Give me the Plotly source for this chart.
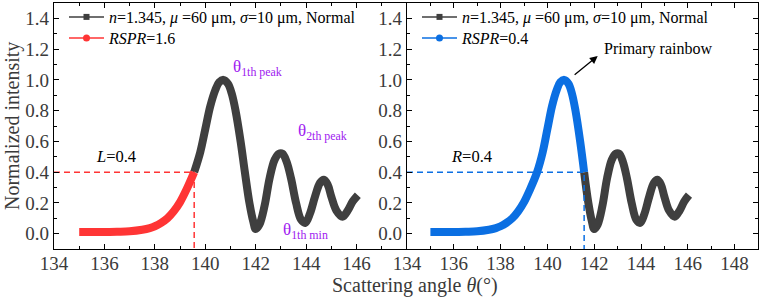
import plotly.graph_objects as go

# ---- data ----
theta = [135.0, 135.5, 136.0, 136.5, 137.0, 137.5, 137.8, 138.0, 138.25, 138.5,
         138.75, 139.0, 139.25, 139.56, 139.8, 140.0, 140.2, 140.4, 140.55, 140.72,
         140.9, 141.05, 141.2, 141.4, 141.57, 141.75, 141.9, 142.0, 142.15, 142.35,
         142.55, 142.75, 142.92, 143.06, 143.22, 143.4, 143.6, 143.8, 143.97, 144.15,
         144.35, 144.55, 144.7, 144.85, 145.0, 145.2, 145.44, 145.65, 145.85, 146.05]
intensity = [0.01, 0.01, 0.01, 0.012, 0.015, 0.025, 0.036, 0.048, 0.07, 0.10,
             0.145, 0.205, 0.285, 0.40, 0.53, 0.68, 0.83, 0.935, 0.985, 1.0,
             0.975, 0.91, 0.80, 0.60, 0.40, 0.20, 0.08, 0.03, 0.06, 0.18,
             0.36, 0.48, 0.52, 0.52, 0.47, 0.36, 0.20, 0.09, 0.07, 0.13,
             0.24, 0.33, 0.35, 0.32, 0.24, 0.15, 0.11, 0.15, 0.21, 0.25]

threshold = 0.4
left_cross = 139.56    # L=0.4 crossing (rising side)
right_cross = 141.57   # R=0.4 crossing (falling side)
axis_min_x = 134
axis_min_y = -0.1

legend_main = "<i>n</i>=1.345, <i>μ</i> =60 μm, <i>σ</i>=10 μm, Normal"
legend_left = "<i>RSPR</i>=1.6"
legend_right = "<i>RSPR</i>=0.4"

x_ticks_left = [134, 136, 138, 140, 142, 144, 146]
x_ticks_right = [134, 136, 138, 140, 142, 144, 146, 148]
y_ticks = [0.0, 0.2, 0.4, 0.6, 0.8, 1.0, 1.2, 1.4]

GRAY = "#3f3f3f"
RED = "#ff3535"
BLUE = "#0b6fe2"
PURPLE = "#a020f0"
FONT = "Liberation Serif"

W, H = 761, 299

def seg(lo, hi):
    xs, ys = [], []
    for t, v in zip(theta, intensity):
        if lo <= t <= hi:
            xs.append(t)
            ys.append(v)
    return xs, ys

fig = go.Figure()

lw = 8
# left panel
gx, gy = seg(left_cross, 999)
rx, ry = seg(0, left_cross)
fig.add_trace(go.Scatter(x=gx, y=gy, mode="lines", line=dict(color=GRAY, width=lw, shape="spline"),
                         xaxis="x", yaxis="y", showlegend=False))
fig.add_trace(go.Scatter(x=rx, y=ry, mode="lines", line=dict(color=RED, width=lw, shape="spline"),
                         xaxis="x", yaxis="y", showlegend=False))
fig.add_trace(go.Scatter(x=[axis_min_x, left_cross, left_cross], y=[threshold, threshold, axis_min_y],
                         mode="lines", line=dict(color=RED, width=1.5, dash="6px,4px"),
                         xaxis="x", yaxis="y", showlegend=False))
# right panel
gx2, gy2 = seg(right_cross, 999)
bx, by = seg(0, right_cross)
fig.add_trace(go.Scatter(x=gx2, y=gy2, mode="lines", line=dict(color=GRAY, width=lw, shape="spline"),
                         xaxis="x2", yaxis="y2", showlegend=False))
fig.add_trace(go.Scatter(x=bx, y=by, mode="lines", line=dict(color=BLUE, width=lw, shape="spline"),
                         xaxis="x2", yaxis="y2", showlegend=False))
fig.add_trace(go.Scatter(x=[axis_min_x, right_cross, right_cross], y=[threshold, threshold, axis_min_y],
                         mode="lines", line=dict(color=BLUE, width=1.5, dash="6px,4px"),
                         xaxis="x2", yaxis="y2", showlegend=False))

# legend entries (one legend per row for exact placement)
entries = [
    (legend_main, GRAY, "square", 6, "x", "y", "legend"),
    (legend_left, RED, "circle", 7, "x", "y", "legend2"),
    (legend_main, GRAY, "square", 6, "x2", "y2", "legend3"),
    (legend_right, BLUE, "circle", 7, "x2", "y2", "legend4"),
]
for name, col, sym, sz, xa, ya, lg in entries:
    fig.add_trace(go.Scatter(x=[None], y=[None], mode="lines+markers", name=name,
                             line=dict(color=col, width=1.5), marker=dict(symbol=sym, size=sz, color=col),
                             xaxis=xa, yaxis=ya, legend=lg))

x1_dom = [54 / W, 407 / W]
x2_dom = [407 / W, 758 / W]
y_dom = [1 - 249 / H, 1 - 3 / H]

tickfont = dict(family=FONT, size=19, color="#3a3a3a")
common_x = dict(showline=True, linecolor="black", linewidth=1.3, ticks="inside", ticklen=5,
                tickcolor="black", tickwidth=1.2, mirror="allticks", showgrid=False, zeroline=False,
                automargin=False, tickfont=tickfont, ticklabelstandoff=-3,
                minor=dict(dtick=1, ticks="inside", ticklen=3, tickcolor="black"))
common_y = dict(showline=True, linecolor="black", linewidth=1.3, ticks="inside", ticklen=5,
                tickcolor="black", tickwidth=1.2, showgrid=False, zeroline=False, tickformat=".1f",
                tickvals=y_ticks, range=[-0.1, 1.5], tickfont=tickfont, automargin=False,
                minor=dict(dtick=0.1, ticks="inside", ticklen=3, tickcolor="black"))

def leg(xpx, ypx):
    return dict(x=xpx / W, y=1 - ypx / H, xanchor="left", yanchor="middle", bgcolor="rgba(0,0,0,0)",
                font=dict(family=FONT, size=16), itemwidth=35)

fig.update_layout(
    width=W, height=H, margin=dict(l=0, r=0, t=0, b=0, autoexpand=False),
    paper_bgcolor="white", plot_bgcolor="white",
    font=dict(family=FONT, size=16, color="black"),
    xaxis=dict(domain=x1_dom, range=[134, 148], tickvals=x_ticks_left, anchor="y", **common_x),
    yaxis=dict(domain=y_dom, anchor="x", mirror=False, **common_y),
    xaxis2=dict(domain=x2_dom, range=[134, 149], tickvals=x_ticks_right, anchor="y2", **common_x),
    yaxis2=dict(domain=y_dom, anchor="x2", mirror="allticks", **common_y),
    legend=leg(64, 17), legend2=leg(64, 38), legend3=leg(417, 17), legend4=leg(417, 38),
    showlegend=True,
)

ann = []
ann.append(dict(text="Normalized intensity", x=13 / W, y=1 - 126 / H, xref="paper", yref="paper",
                xanchor="center", yanchor="middle",
                textangle=-90, showarrow=False, font=dict(family=FONT, size=20, color="#3a3a3a")))
ann.append(dict(text="Scattering angle <i>θ</i>(°)", x=415 / W, y=1 - 285 / H, xref="paper", yref="paper",
                xanchor="center", yanchor="middle",
                showarrow=False, font=dict(family=FONT, size=20, color="#3a3a3a")))
ann.append(dict(text="θ<sub>1th peak</sub>", x=141.0, y=1.08, xref="x", yref="y", xanchor="left",
                showarrow=False, font=dict(family=FONT, size=17, color=PURPLE)))
ann.append(dict(text="θ<sub>2th peak</sub>", x=143.6, y=0.66, xref="x", yref="y", xanchor="left",
                showarrow=False, font=dict(family=FONT, size=17, color=PURPLE)))
ann.append(dict(text="θ<sub>1th min</sub>", x=143.0, y=0.02, xref="x", yref="y", xanchor="left",
                showarrow=False, font=dict(family=FONT, size=17, color=PURPLE)))
ann.append(dict(text="<i>L</i>=0.4", x=135.6, y=0.5, xref="x", yref="y", xanchor="left",
                showarrow=False, font=dict(family=FONT, size=16.5, color="black")))
ann.append(dict(text="<i>R</i>=0.4", x=135.8, y=0.5, xref="x2", yref="y2", xanchor="left",
                showarrow=False, font=dict(family=FONT, size=16.5, color="black")))
ann.append(dict(text="Primary rainbow", x=142.35, y=1.2, xref="x2", yref="y2", xanchor="left",
                showarrow=False, font=dict(family=FONT, size=16, color="black")))
ann.append(dict(text="", x=142.15, y=1.155, xref="x2", yref="y2", ax=141.1, ay=1.025,
                axref="x2", ayref="y2", showarrow=True, arrowhead=2, arrowsize=1.2,
                arrowwidth=1.3, arrowcolor="black"))
fig.update_layout(annotations=ann)

fig.write_html("out.html", config={"displayModeBar": False},
               post_script="document.body.style.margin='0px';")
